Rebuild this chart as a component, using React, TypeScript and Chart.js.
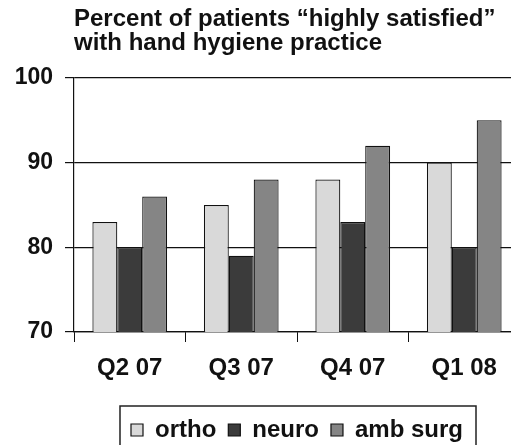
import React, { useEffect, useRef } from "react";
import { Chart, registerables } from "chart.js";

Chart.register(...registerables);

const categories = ["Q2 07", "Q3 07", "Q4 07", "Q1 08"];
const orthoValues = [83, 85, 88, 90];
const neuroValues = [80, 79, 83, 80];
const ambSurgValues = [86, 88, 92, 95];
const seriesNames = ["ortho", "neuro", "amb surg"];
const titleLines = ["Percent of patients \u201chighly satisfied\u201d", "with hand hygiene practice"];
const yMin = 70;
const yMax = 100;
const yStep = 10;

const FONT = '"Liberation Sans", Arial, Helvetica, sans-serif';

const legendBorder = {
  id: "legendBorder",
  afterDraw(chart: any) {
    const lg = chart.legend;
    if (!lg || !lg.legendHitBoxes || !lg.legendHitBoxes.length) return;
    const hb = lg.legendHitBoxes;
    let l = Infinity, r = -Infinity, t = Infinity;
    for (const b of hb) {
      l = Math.min(l, b.left);
      r = Math.max(r, b.left + b.width);
      t = Math.min(t, b.top);
    }
    const ctx = chart.ctx;
    ctx.save();
    ctx.strokeStyle = "#222";
    ctx.lineWidth = 1.5;
    ctx.strokeRect(l - 11, t - 12, r - l + 24, 60);
    ctx.restore();
  },
};

export default function App() {
  const ref = useRef<HTMLCanvasElement | null>(null);
  useEffect(() => {
    if (!ref.current) return;
    const chart = new Chart(ref.current, {
      type: "bar",
      data: {
        labels: categories,
        datasets: [
          { label: seriesNames[0], data: orthoValues, backgroundColor: "#d9d9d9", borderColor: "#111", borderWidth: 1.2 },
          { label: seriesNames[1], data: neuroValues, backgroundColor: "#3b3b3b", borderColor: "#111", borderWidth: 1.2 },
          { label: seriesNames[2], data: ambSurgValues, backgroundColor: "#858585", borderColor: "#111", borderWidth: 1.2 },
        ],
      },
      options: {
        responsive: false,
        animation: false,
        devicePixelRatio: 1,
        layout: { padding: 0 },
        datasets: { bar: { barPercentage: 1, categoryPercentage: 0.67 } },
        plugins: {
          title: {
            display: true,
            text: titleLines,
            align: "start",
            fullSize: false,
            color: "#111",
            font: { family: FONT, size: 24, weight: "bold", lineHeight: 1 },
            padding: { top: 7, bottom: 23 },
          },
          legend: {
            position: "bottom",
            fullSize: false,
            labels: {
              color: "#111",
              font: { family: FONT, size: 24, weight: "bold" },
              boxWidth: 12,
              boxHeight: 12,
              padding: 12,
            },
          },
          tooltip: { enabled: false },
        },
        scales: {
          x: {
            grid: { drawOnChartArea: false, drawTicks: true, tickLength: 10, color: "#111", offset: true },
            border: { display: true, color: "#111", width: 1.2 },
            ticks: { color: "#111", font: { family: FONT, size: 24, weight: "bold" }, padding: 12 },
            afterFit: (s: any) => { s.height = 74; },
          },
          y: {
            min: yMin,
            max: yMax,
            grid: { color: "#111", lineWidth: 1.2, tickLength: 9 },
            border: { display: true, color: "#111", width: 1.2 },
            ticks: { stepSize: yStep, color: "#111", font: { family: FONT, size: 23, weight: "bold" }, padding: 12 },
            afterFit: (s: any) => { s.width = 74; },
          },
        },
      },
      plugins: [legendBorder],
    });
    return () => chart.destroy();
  }, []);
  return (
    <div style={{ position: "fixed", left: 0, top: 0, width: 511, height: 445, overflow: "hidden", background: "#fff" }}>
      <canvas ref={ref} width={520} height={452} style={{ display: "block" }} />
    </div>
  );
}
